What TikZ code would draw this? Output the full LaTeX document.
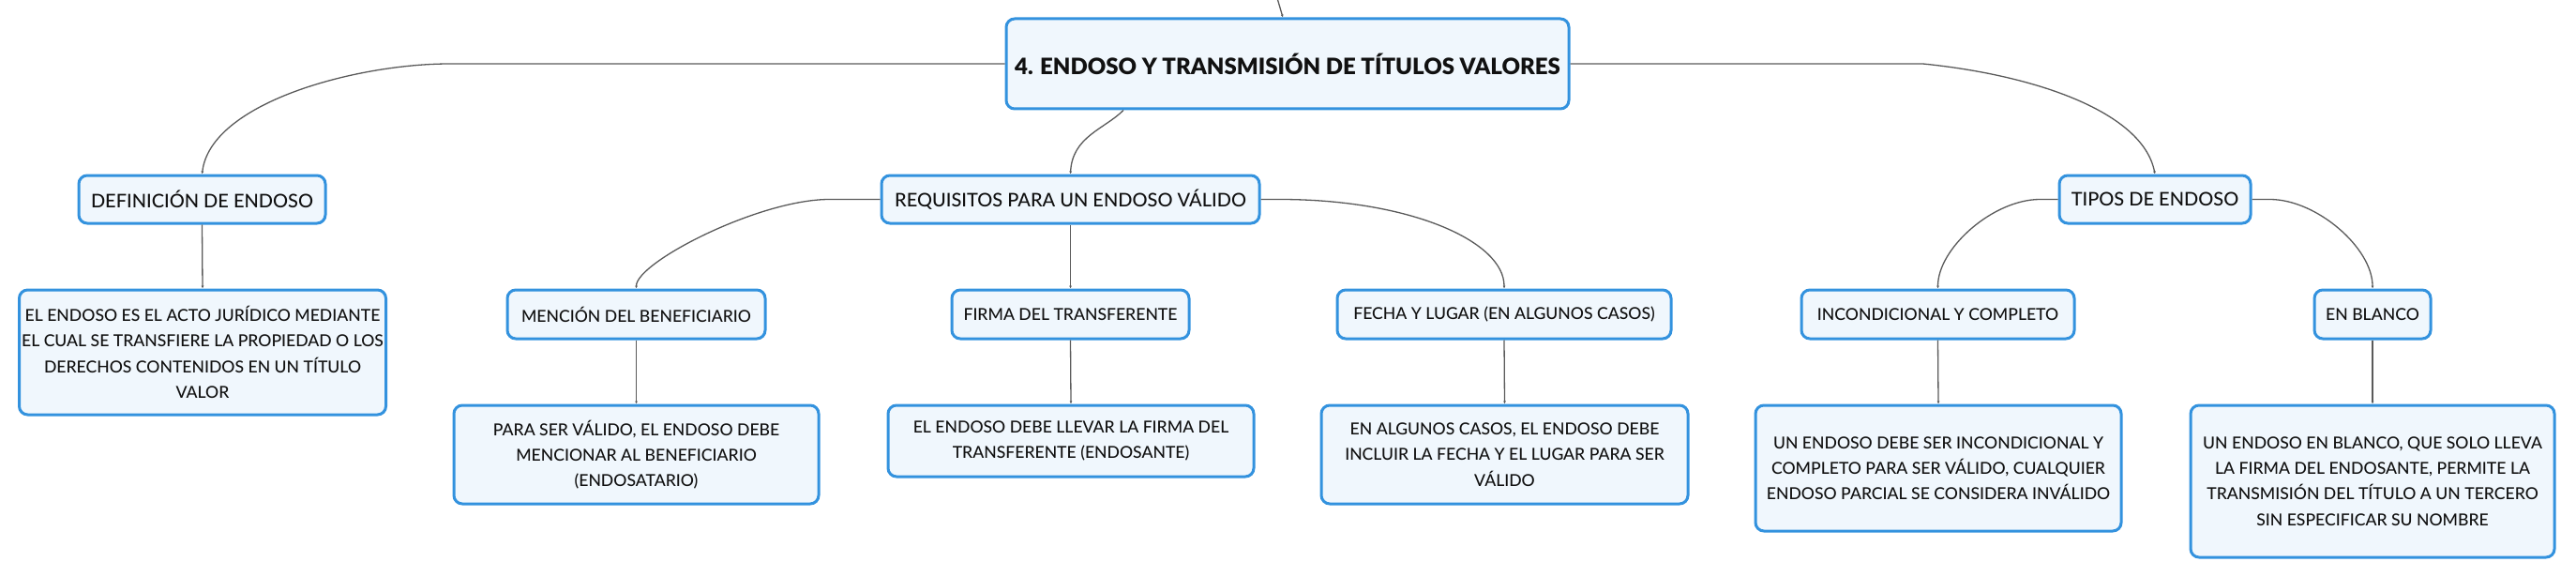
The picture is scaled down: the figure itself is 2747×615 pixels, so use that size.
\documentclass[tikz,border=0pt]{standalone}
\usepackage{fontspec}
\IfFontExistsTF{Lato Medium}{\setmainfont{Lato Medium}}{\setmainfont{Lato}}
\IfFontExistsTF{Lato Black}{\newfontfamily\titlefont{Lato Black}}{%
  \IfFontExistsTF{Lato Heavy}{\newfontfamily\titlefont{Lato Heavy}}{%
    \newfontfamily\titlefont{Lato}[UprightFont=* Bold]}}
\usetikzlibrary{arrows.meta}
\definecolor{boxborder}{HTML}{3392DE}
\definecolor{boxfill}{HTML}{F0F7FD}
\definecolor{conncol}{HTML}{5A5A5A}
\definecolor{txtcol}{HTML}{111111}
\begin{document}
\begin{tikzpicture}[x=1pt,y=-1pt,
  box/.style 2 args={draw=boxborder, fill=boxfill, line width=3pt, rounded corners=9pt,
    align=center, text=txtcol, inner sep=0pt, minimum width=#1pt, minimum height=#2pt},
  lbl/.style={font=\fontsize{20}{27.3}\selectfont},
  body/.style={font=\fontsize{17.6}{27.3}\selectfont},
  conn/.style={draw=conncol, line width=1.3pt, -{Latex[length=3pt,width=3pt]}}]
\useasboundingbox (0,0) rectangle (2747,615);

% nodes
\node[box={600}{96}, font=\titlefont\fontsize{24}{28}\selectfont] (main) at (1373,68) {4. ENDOSO Y TRANSMISIÓN DE TÍTULOS VALORES};

\node[box={263}{51}, lbl] (def) at (215.5,212.5) {DEFINICIÓN DE ENDOSO};
\node[box={391}{133}, body] (deftxt) at (216,375.5) {EL ENDOSO ES EL ACTO JURÍDICO MEDIANTE\\EL CUAL SE TRANSFIERE LA PROPIEDAD O LOS\\DERECHOS CONTENIDOS EN UN TÍTULO\\VALOR};

\node[box={403}{51}, lbl] (req) at (1141.5,212.5) {REQUISITOS PARA UN ENDOSO VÁLIDO};
\node[box={275}{52}, body] (men) at (678.5,335) {MENCIÓN DEL BENEFICIARIO};
\node[box={253}{52}, body] (fir) at (1141.5,335) {FIRMA DEL TRANSFERENTE};
\node[box={356}{52}, body] (fec) at (1604,335) {FECHA Y LUGAR (EN ALGUNOS CASOS)};
\node[box={389}{105}, body] (mentxt) at (678.5,484.5) {PARA SER VÁLIDO, EL ENDOSO DEBE\\MENCIONAR AL BENEFICIARIO\\(ENDOSATARIO)};
\node[box={390}{76}, body] (firtxt) at (1142,470) {EL ENDOSO DEBE LLEVAR LA FIRMA DEL\\TRANSFERENTE (ENDOSANTE)};
\node[box={391}{105}, body] (fectxt) at (1604.5,484.5) {EN ALGUNOS CASOS, EL ENDOSO DEBE\\INCLUIR LA FECHA Y EL LUGAR PARA SER\\VÁLIDO};

\node[box={204}{51}, lbl] (tip) at (2298,212.5) {TIPOS DE ENDOSO};
\node[box={291}{52}, body] (inc) at (2066.5,335) {INCONDICIONAL Y COMPLETO};
\node[box={124}{52}, body] (bla) at (2530,335) {EN BLANCO};
\node[box={390}{134}, body] (inctxt) at (2067,499) {UN ENDOSO DEBE SER INCONDICIONAL Y\\COMPLETO PARA SER VÁLIDO, CUALQUIER\\ENDOSO PARCIAL SE CONSIDERA INVÁLIDO};
\node[box={388}{162}, body] (blatxt) at (2530,513) {UN ENDOSO EN BLANCO, QUE SOLO LLEVA\\LA FIRMA DEL ENDOSANTE, PERMITE LA\\TRANSMISIÓN DEL TÍTULO A UN TERCERO\\SIN ESPECIFICAR SU NOMBRE};

% connectors
\coordinate (topc) at (1362,-2);
\draw[conn] (topc) -- ([xshift=-5pt]main.north);
\draw[conn] (main.west) -- ++(-592,0) .. controls +(-100,0) and +(9,-76) .. (def.north);
\draw[conn] (main.east) -- ++(376,0) .. controls +(120,12) and +(-13,-66) .. (tip.north);
\draw[conn] ([xshift=-175pt]main.south) .. controls +(-20,20) and +(2,-40) .. (req.north);

\draw[conn] (req.west) -- ++(-54,0) .. controls +(-75,0) and +(0,-28) .. (men.north);
\draw[conn] (req.south) -- (fir.north);
\draw[conn] (req.east) -- ++(20,0) .. controls +(140,0) and +(0,-50) .. (fec.north);

\draw[conn] (tip.west) -- ++(-19,0) .. controls +(-50,0) and +(0,-43) .. (inc.north);
\draw[conn] (tip.east) -- ++(19,0) .. controls +(50,0) and +(0,-43) .. (bla.north);

\draw[conn] (def.south) -- (deftxt.north);
\draw[conn] (men.south) -- (mentxt.north);
\draw[conn] (fir.south) -- (firtxt.north);
\draw[conn] (fec.south) -- (fectxt.north);
\draw[conn] (inc.south) -- (inctxt.north);
\draw[conn] (bla.south) -- (blatxt.north);
\end{tikzpicture}
\end{document}
